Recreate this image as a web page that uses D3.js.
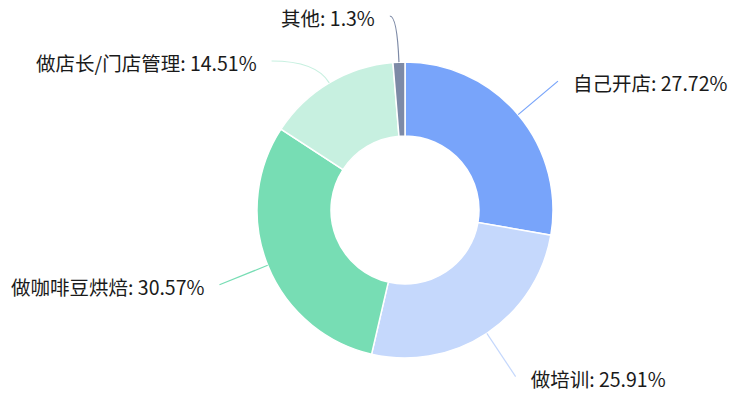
<!DOCTYPE html>
<html>
<head>
<meta charset="utf-8">
<script src="https://cdn.jsdelivr.net/npm/d3@7"></script>
<style>
  html, body { margin: 0; padding: 0; background: #fff; }
  svg { display: block; }
</style>
</head>
<body>
<svg id="chart" width="742" height="398"></svg>
<script>
// Career directions and their shares (%)
const categories = ["自己开店", "做培训", "做咖啡豆烘焙", "做店长/门店管理", "其他"];
const shares = [27.72, 25.91, 30.57, 14.51, 1.3];
const colors = ["#78A4FA", "#C5D8FC", "#77DDB4", "#C7F0E0", "#7D8AA6"];

const width = 742, height = 398;
const cx = 405, cy = 210;
const outerR = 148, innerR = 74;
const labelR = 200;

const svg = d3.select("#chart");
const g = svg.append("g").attr("transform", `translate(${cx},${cy})`);

const data = categories.map((c, i) => ({ name: c, value: shares[i], color: colors[i] }));

const pie = d3.pie().value(d => d.value).sort(null);
const arc = d3.arc().innerRadius(innerR).outerRadius(outerR);
const arcs = pie(data);

g.selectAll("path.slice")
  .data(arcs)
  .join("path")
  .attr("class", "slice")
  .attr("d", arc)
  .attr("fill", d => d.data.color)
  .attr("stroke", "#fff")
  .attr("stroke-width", 1.5);

// Label anchor points: on a circle around the donut, then spread vertically per side
const labels = arcs.map(a => {
  const ang = (a.startAngle + a.endAngle) / 2;
  const side = Math.sin(ang) >= 0 ? 1 : -1;
  return {
    a, ang, side,
    sx: outerR * Math.sin(ang), sy: -outerR * Math.cos(ang),
    ex: labelR * Math.sin(ang), ey: -labelR * Math.cos(ang),
    moved: false
  };
});

const minGap = 45;
const topY = 16 - cy;
[1, -1].forEach(side => {
  const group = labels.filter(l => l.side === side).sort((p, q) => p.ey - q.ey);
  let prev = null;
  group.forEach(l => {
    if (l.ey < topY) {
      l.ex += side * 7;
      l.ey = topY;
    }
    if (prev && l.ey - prev.ey < minGap) {
      l.ey = prev.ey + minGap;
      l.moved = true;
    }
    if (l.moved) {
      l.ex = side * Math.sqrt(Math.max(labelR * labelR - l.ey * l.ey, 0));
    }
    prev = l;
  });
});

// Curved connectors: leave the slice radially, arrive horizontally
labels.forEach(l => {
  const dx = Math.sin(l.ang), dy = -Math.cos(l.ang);
  const t = Math.abs(dy) > 0.05 ? (l.ey - l.sy) / dy : 30;
  let qx = l.sx + dx * t;
  const qy = l.sy + dy * t;
  if ((qx - l.ex) * l.side > 0) qx = l.ex;
  const p = d3.path();
  p.moveTo(l.sx, l.sy);
  p.quadraticCurveTo(qx, qy, l.ex, l.ey);
  g.append("path")
    .attr("d", p.toString())
    .attr("fill", "none")
    .attr("stroke", l.a.data.color)
    .attr("stroke-width", 1.2);

  g.append("text")
    .attr("x", l.ex + l.side * 15)
    .attr("y", l.ey + 5)
    .attr("text-anchor", l.side > 0 ? "start" : "end")
    .attr("dominant-baseline", "middle")
    .attr("font-family", "'Noto Sans CJK SC', 'Noto Sans', sans-serif")
    .attr("font-size", 19.5)
    .attr("fill", "#1a1a1a")
    .text(`${l.a.data.name}: ${l.a.data.value}%`);
});
</script>
</body>
</html>
